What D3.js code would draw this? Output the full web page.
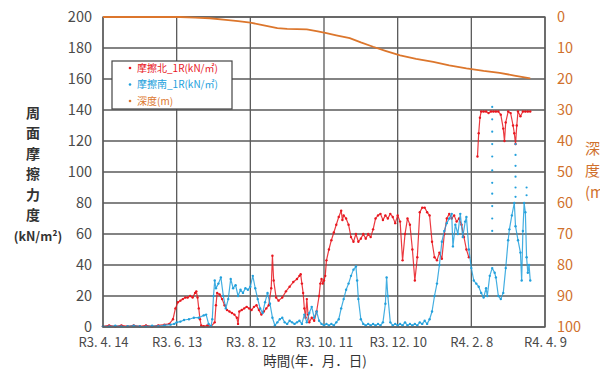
<!DOCTYPE html>
<html>
<head>
<meta charset="utf-8">
<script src="https://cdn.jsdelivr.net/npm/d3@7"></script>
<style>
  html, body { margin: 0; padding: 0; background: #fff; }
  svg { display: block; font-family: "Noto Sans CJK JP", "Noto Sans", sans-serif; }
</style>
</head>
<body>
<svg id="chart" width="600" height="369"></svg>
<script>
// Start of the record (R3.4.14) — series are stored as [days since start, value]
const startDate = new Date(2021, 3, 14);
const endDate = new Date(2022, 3, 9);

// Tick dates and their labels (Reiwa era)
const tickDates = [
  new Date(2021, 3, 14), new Date(2021, 5, 13), new Date(2021, 7, 12),
  new Date(2021, 9, 11), new Date(2021, 11, 10), new Date(2022, 1, 8), new Date(2022, 3, 9)
];
const tickLabels = ["R3. 4. 14", "R3. 6. 13", "R3. 8. 12", "R3. 10. 11", "R3. 12. 10", "R4. 2. 8", "R4. 4. 9"];
const frictionTicks = [0, 20, 40, 60, 80, 100, 120, 140, 160, 180, 200];
const depthTicks = [0, 10, 20, 30, 40, 50, 60, 70, 80, 90, 100];

const seriesNames = ["摩擦北_1R(kN/㎡)", "摩擦南_1R(kN/㎡)", "深度(m)"];

// Skin friction, north side (kN/m²); null marks a break in the record
const northFriction = [
  [0, 0.5], [5, 1], [10, 0.5], [15, 1], [20, 0.5], [25, 1], [30, 0.5], [35, 1], [40, 0.5],
  [45, 1], [50, 1.5], [54, 2], [57, 5], [59, 12], [61, 16], [63, 17], [65, 18], [67, 19],
  [69, 19], [71, 20], [73, 19], [75, 22], [76, 23], [77, 19], [78, 12], [79, 5], [80, 1],
  [82, 0.5], [85, 1], [88, 0.5], [91, 3], [92, 14], [93, 22], [95, 21], [97, 18], [99, 14],
  [101, 11], [103, 10], [105, 9], [107, 8], [109, 6], [110, 2], [111, 10], [113, 11],
  [115, 12], [117, 13], [119, 12], [121, 11], [123, 13], [125, 14], [127, 11], [129, 8],
  [131, 10], [133, 12], [135, 14], [137, 25], [138, 46], [139, 30], [141, 19], [143, 17],
  [146, 19], [149, 23], [152, 26], [155, 29], [158, 31], [160, 33], [161, 34], [162, 28],
  [163, 22], [164, 12], [165, 6], [166, 18], [167, 8], [168, 3], [170, 6], [172, 4],
  [174, 10], [176, 20], [177, 28], [178, 31], [179, 28], [180, 30], [181, 33], [182, 43],
  [184, 50], [186, 56], [188, 61], [190, 66], [192, 71], [194, 75], [195, 69], [196, 72],
  [198, 70], [200, 66], [202, 58], [204, 55], [206, 60], [208, 55], [210, 57], [212, 60],
  [214, 57], [216, 60], [218, 58], [220, 63], [222, 70], [224, 72], [226, 73], [228, 69],
  [230, 72], [232, 70], [234, 73], [236, 71], [238, 67], [240, 72], [242, 68], [244, 43],
  [246, 60], [248, 70], [250, 66], [252, 50], [254, 30], [256, 45], [258, 74], [260, 77],
  [262, 77], [264, 74], [266, 72], [268, 55], [270, 45], [272, 43], [274, 48], [276, 44],
  [278, 60], [280, 70], [282, 73], [284, 70], [286, 72], [288, 68], [290, 70], [292, 66],
  [294, 58], [296, 50], [298, 45], [302, null],
  [305, 110], [306, 125], [307, 135], [308, 139], [310, 139], [312, 139], [314, 138],
  [316, 139], [318, 139], [320, 139], [322, 139], [324, 137], [326, 128], [327, 120],
  [328, 132], [330, 139], [332, 138], [334, 130], [335, 125], [336, 118], [337, 130],
  [338, 139], [340, 136], [342, 139], [344, 139], [346, 139], [348, 139]
];

// Skin friction, south side (kN/m²)
const southFriction = [
  [0, 0.5], [5, 0.3], [10, 0.8], [15, 0.3], [20, 0.5], [25, 0.8], [30, 0.5], [35, 0.3],
  [40, 0.8], [45, 0.5], [50, 1], [55, 1.5], [58, 2], [60, 3], [63, 3.5], [66, 4.5], [70, 5],
  [74, 6], [78, 6], [82, 7.5], [84, 8], [86, 2], [88, 0.5], [89, 5], [90, 20], [91, 30],
  [92, 25], [94, 28], [96, 32], [98, 20], [100, 12], [102, 18], [104, 31], [106, 25],
  [108, 27], [110, 20], [112, 24], [114, 22], [116, 25], [118, 24], [120, 26], [122, 33],
  [124, 25], [126, 18], [128, 12], [130, 9], [132, 16], [134, 22], [136, 15], [138, 6],
  [140, 1], [142, 3], [144, 5], [146, 6], [148, 3], [150, 2], [152, 4], [154, 3], [156, 2],
  [158, 3], [160, 4], [162, 2], [164, 8], [166, 3], [168, 9], [170, 13], [172, 6], [174, 10],
  [176, 4], [178, 2], [180, 1], [182, 2], [184, 1], [186, 2], [188, 1], [190, 3], [192, 5],
  [194, 12], [196, 18], [198, 24], [200, 28], [202, 33], [204, 37], [206, 39], [207, 30],
  [208, 18], [210, 5], [212, 2], [214, 1], [216, 2], [218, 1], [220, 2], [222, 1], [224, 2],
  [226, 1], [228, 3], [230, 15], [231, 32], [232, 20], [234, 3], [236, 1], [238, 2],
  [240, 1], [242, 2], [244, 1], [246, 3], [248, 1], [250, 2], [252, 1], [254, 2], [256, 1],
  [258, 3], [260, 2], [262, 4], [264, 2], [266, 5], [268, 10], [270, 20], [272, 28],
  [274, 40], [276, 55], [278, 62], [280, 67], [282, 70], [284, 73], [285, 52], [287, 66],
  [289, 60], [291, 73], [293, 58], [295, 68], [296, 71], [298, 50], [300, 38], [302, 30],
  [304, 28], [306, 26], [308, 22], [310, 19], [312, 25], [313, 20], [315, 33], [317, 38],
  [319, 35], [320, 32], [322, 20], [324, 18], [326, 22], [328, 38], [330, 56], [331, 63],
  [333, 72], [335, 80], [336, 65], [338, 56], [340, 48], [341, 30], [342, 62], [343, 80],
  [344, 74], [345, 45], [346, 35], [347, 40], [348, 30]
];

// Scattered south-side readings recorded as isolated points
const southScattered = [
  [317, 142], [317, 134], [317, 126], [317, 118], [317, 110], [317, 101], [317, 93],
  [317, 86], [317, 78], [317, 70], [317, 62],
  [336, 118], [336, 111], [336, 104], [336, 97], [336, 90], [336, 84],
  [345, 90], [345, 85]
];

// Excavation depth (m)
const depth = [
  [0, 0], [20, 0], [40, 0], [60, 0], [63, 0], [75, 0.2], [87, 0.4], [100, 0.9], [110, 1.3],
  [120, 1.8], [130, 2.6], [142, 3.6], [150, 3.8], [166, 4.0], [175, 4.6], [182, 5.2],
  [190, 5.9], [201, 6.8], [210, 8.2], [220, 9.6], [230, 10.9], [242, 12.4], [255, 13.5],
  [269, 14.5], [282, 15.6], [296, 16.6], [310, 17.4], [323, 18.0], [335, 18.9], [348, 19.8]
];

const colors = { north: "#e8171f", south: "#22a0dc", depth: "#dc762c", grid: "#5a5a5a" };

const svg = d3.select("#chart");
const plot = { left: 103, right: 545, top: 17, bottom: 327 };

const x = d3.scaleTime().domain([startDate, endDate]).range([plot.left, plot.right]);
const yF = d3.scaleLinear().domain([0, 200]).range([plot.bottom, plot.top]);
const yD = d3.scaleLinear().domain([0, 100]).range([plot.top, plot.bottom]);
const dayToDate = d => d3.timeDay.offset(startDate, d);

// Grid lines
const gridG = svg.append("g");
gridG.selectAll("line.h").data(frictionTicks).join("line")
  .attr("x1", plot.left).attr("x2", plot.right)
  .attr("y1", d => yF(d)).attr("y2", d => yF(d))
  .attr("stroke", colors.grid).attr("stroke-width", 1.3);
gridG.selectAll("line.v").data(tickDates).join("line")
  .attr("x1", d => x(d)).attr("x2", d => x(d))
  .attr("y1", plot.top).attr("y2", plot.bottom)
  .attr("stroke", colors.grid).attr("stroke-width", 1.3);

// Left axis labels
const leftAxis = d3.axisLeft(yF).tickValues(frictionTicks).tickSize(0).tickPadding(11);
svg.append("g").attr("transform", `translate(${plot.left},0)`).call(leftAxis)
  .call(g => g.select(".domain").remove())
  .call(g => g.selectAll("text").attr("fill", "#4a4a4a").style("font-size", "14.5px")
    .style("font-family", "'Noto Sans CJK JP', sans-serif"));

// Right (depth) axis labels
const rightAxis = d3.axisRight(yD).tickValues(depthTicks).tickSize(0).tickPadding(12);
svg.append("g").attr("transform", `translate(${plot.right},0)`).call(rightAxis)
  .call(g => g.select(".domain").remove())
  .call(g => g.selectAll("text").attr("fill", "#d0702c").style("font-size", "14.5px")
    .style("font-family", "'Noto Sans CJK JP', sans-serif"));

// Bottom axis labels
const bottomAxis = d3.axisBottom(x).tickValues(tickDates).tickSize(0).tickPadding(11)
  .tickFormat((d, i) => tickLabels[i]);
svg.append("g").attr("transform", `translate(0,${plot.bottom})`).call(bottomAxis)
  .call(g => g.select(".domain").remove())
  .call(g => g.selectAll("text").attr("fill", "#4a4a4a").style("font-size", "13px")
    .style("font-family", "'Noto Sans CJK JP', sans-serif"));

// Series
const frictionLine = d3.line()
  .defined(d => d[1] !== null)
  .x(d => x(dayToDate(d[0]))).y(d => yF(d[1]));
const depthLine = d3.line().x(d => x(dayToDate(d[0]))).y(d => yD(d[1]));

function drawFriction(data, color) {
  const g = svg.append("g");
  g.append("path").datum(data).attr("d", frictionLine)
    .attr("fill", "none").attr("stroke", color).attr("stroke-width", 1.2)
    .attr("stroke-linejoin", "round").attr("opacity", 0.85);
  g.selectAll("circle").data(data.filter(d => d[1] !== null)).join("circle")
    .attr("cx", d => x(dayToDate(d[0]))).attr("cy", d => yF(d[1]))
    .attr("r", 1.2).attr("fill", color);
}
drawFriction(northFriction, colors.north);
drawFriction(southFriction, colors.south);
svg.append("g").selectAll("circle").data(southScattered).join("circle")
  .attr("cx", d => x(dayToDate(d[0]))).attr("cy", d => yF(d[1]))
  .attr("r", 1.1).attr("fill", colors.south);

// Plot frame
svg.append("rect").attr("x", plot.left).attr("y", plot.top)
  .attr("width", plot.right - plot.left).attr("height", plot.bottom - plot.top)
  .attr("fill", "none").attr("stroke", colors.grid).attr("stroke-width", 1.3);

svg.append("path").datum(depth).attr("d", depthLine)
  .attr("fill", "none").attr("stroke", colors.depth).attr("stroke-width", 1.8);

// Legend
const legend = svg.append("g").attr("transform", "translate(112,61)");
legend.append("rect").attr("width", 120).attr("height", 48)
  .attr("fill", "#fff").attr("stroke", "#444").attr("stroke-width", 1.2);
const legendColors = [colors.north, colors.south, colors.depth];
seriesNames.forEach((name, i) => {
  const yy = 7 + i * 16.5;
  legend.append("circle").attr("cx", 18).attr("cy", yy).attr("r", 1.3).attr("fill", legendColors[i]);
  legend.append("text").attr("x", 25).attr("y", yy).attr("dy", "0.35em")
    .attr("fill", legendColors[i]).style("font-size", "10px").text(name);
});

// Left axis title, set vertically
const leftTitle = ["周", "面", "摩", "擦", "力", "度"];
svg.append("g").selectAll("text").data(leftTitle).join("text")
  .attr("x", 33).attr("y", (d, i) => 118 + i * 20.4)
  .attr("text-anchor", "middle").attr("fill", "#333")
  .style("font-size", "14px").style("font-weight", "bold").text(d => d);
svg.append("text").attr("x", 38).attr("y", 241).attr("text-anchor", "middle")
  .attr("fill", "#333").style("font-size", "12.5px").style("font-weight", "bold").text("(kN/m²)");

// Right axis title
const rightTitle = ["深", "度", "(m)"];
svg.append("g").selectAll("text").data(rightTitle).join("text")
  .attr("x", 585).attr("y", (d, i) => 154 + i * 22)
  .attr("fill", "#d0702c").style("font-size", "15px").text(d => d);

// Bottom axis title
svg.append("text").attr("x", 315).attr("y", 365.5).attr("text-anchor", "middle")
  .attr("fill", "#333").style("font-size", "13.5px").text("時間(年．月．日)");
</script>
</body>
</html>
